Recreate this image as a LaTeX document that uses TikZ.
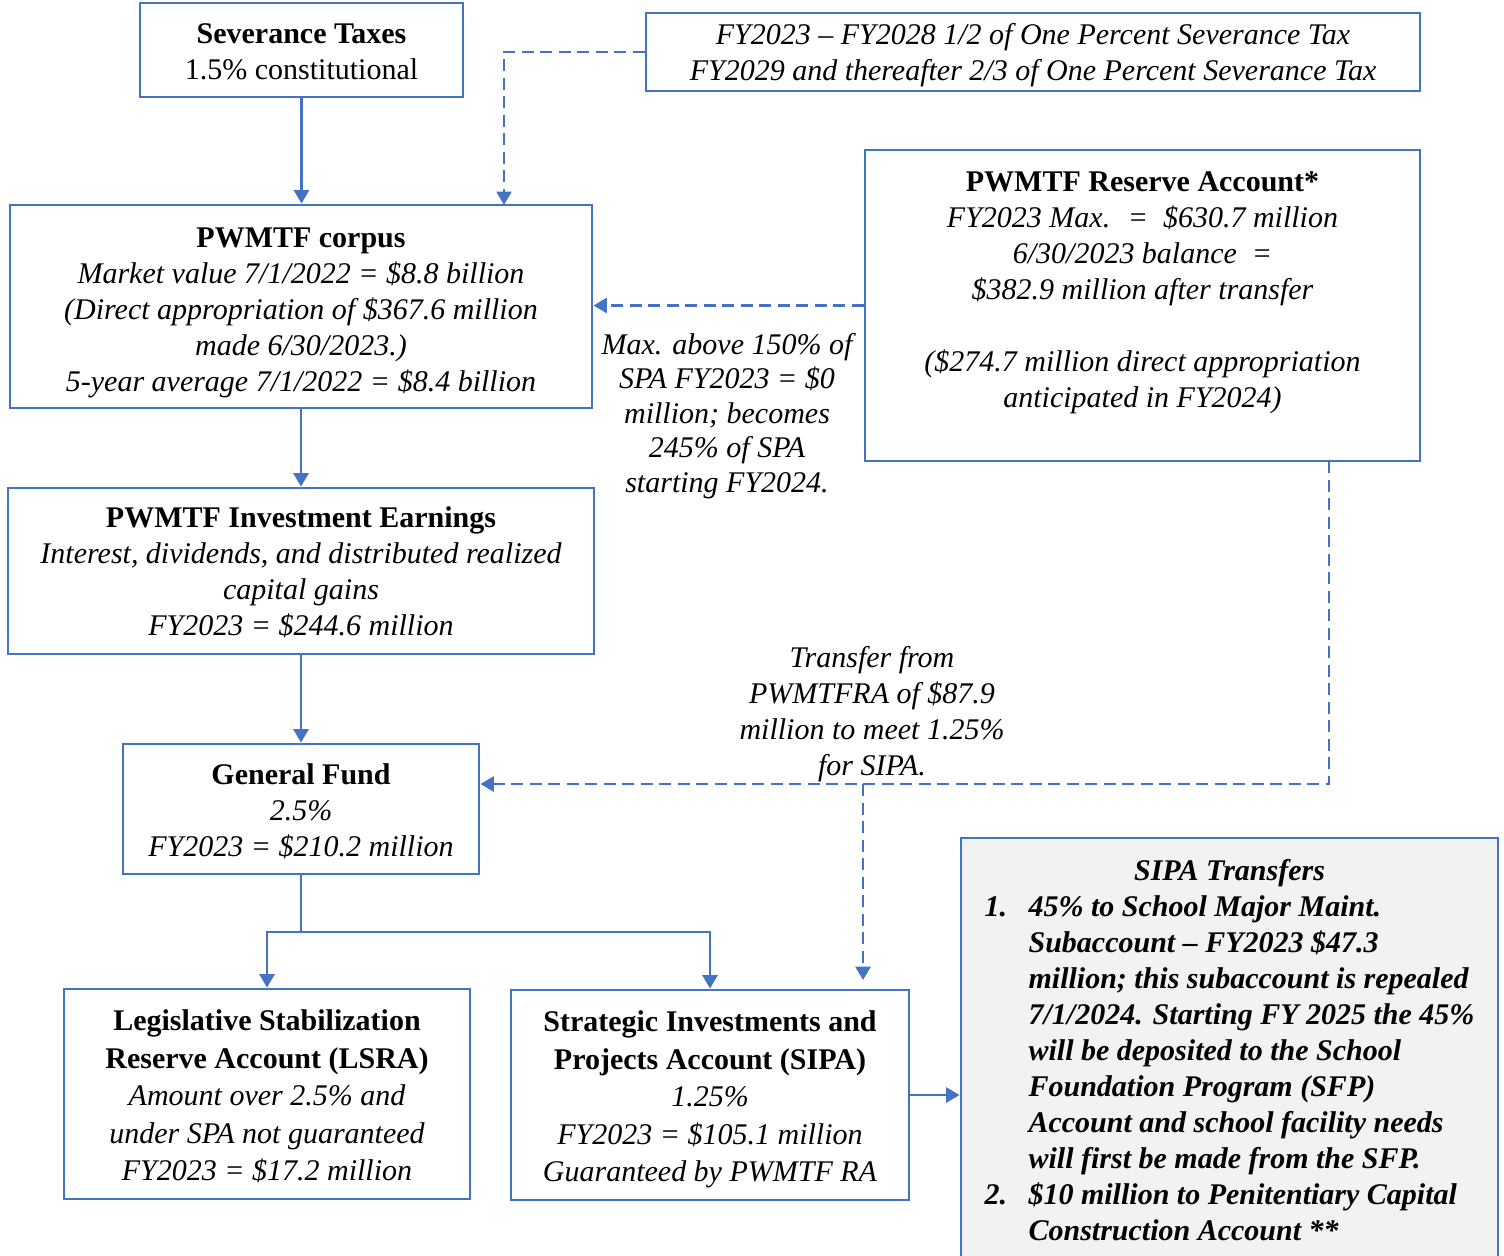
\documentclass[tikz,border=0pt]{standalone}
\usepackage{fontspec}
\setmainfont{Liberation Serif}
\usetikzlibrary{arrows.meta}
\definecolor{flowblue}{HTML}{4472C4}
\definecolor{notegray}{HTML}{F2F2F2}
\newcommand{\topgap}[1]{\rule{0pt}{#1}}
\tikzset{
    account/.style={draw=flowblue, line width=1.15pt, inner sep=0pt, align=center,
        font=\fontsize{12}{14.4}\selectfont},
    caption/.style={inner sep=0pt, align=center, font=\fontsize{12}{13.8}\selectfont\itshape},
    flow/.style={draw=flowblue, line width=1.15pt, -{Triangle[width=6pt,length=5.4pt]}},
    dashflow/.style={flow, dash pattern=on 4.8pt off 2.6pt}
}
\begin{document}
\begin{tikzpicture}[x=0.4pt, y=-0.4pt]

            \useasboundingbox (0,0) rectangle (1504,1255);

            % draw nodes
                % sources
                \node [account, minimum width=129.2pt, minimum height=37.6pt] (sev) at (301.5,50)
                    {\topgap{9.6pt}\textbf{Severance Taxes}\\ 1.5\% constitutional};
                \node [account, minimum width=309.6pt, minimum height=31.2pt] (note) at (1033,52)
                    {\topgap{11.2pt}\itshape FY2023 – FY2028 1/2 of One Percent Severance Tax\\ \itshape FY2029 and thereafter 2/3 of One Percent Severance Tax};

                % corpus and reserve
                \node [account, minimum width=232.8pt, minimum height=81.2pt] (corpus) at (301,306.5)
                    {\topgap{12.8pt}\textbf{PWMTF corpus}\\ \itshape Market value 7/1/2022 = \$8.8 billion\\ \itshape (Direct appropriation of \$367.6 million\\ \itshape made 6/30/2023.)\\ \itshape 5-year average 7/1/2022 = \$8.4 billion};
                \node [account, minimum width=222pt, minimum height=124.4pt] (reserve) at (1142.5,305.5)
                    {\topgap{13.6pt}\textbf{PWMTF Reserve Account*}\\ \itshape FY2023 Max. ~=~ \$630.7 million\\ \itshape 6/30/2023 balance ~=\\ \itshape \$382.9 million after transfer\\ \strut\\ \itshape (\$274.7 million direct appropriation\\ \itshape anticipated in FY2024)\\ \strut};

                % earnings and general fund
                \node [account, minimum width=234.4pt, minimum height=66.4pt] (earn) at (301,571)
                    {\topgap{9.6pt}\textbf{PWMTF Investment Earnings}\\ \itshape Interest, dividends, and distributed realized\\ \itshape capital gains\\ \itshape FY2023 = \$244.6 million};
                \node [account, minimum width=142.4pt, minimum height=52pt] (gf) at (301,809)
                    {\topgap{10.4pt}\textbf{General Fund}\\ \itshape 2.5\%\\ \itshape FY2023 = \$210.2 million};

                % accounts
                \node [account, minimum width=162.4pt, minimum height=84pt, font=\fontsize{12}{15}\selectfont] (lsra) at (267,1094)
                    {\topgap{10.4pt}\textbf{Legislative Stabilization}\\ \textbf{Reserve Account (LSRA)}\\ \itshape Amount over 2.5\% and\\ \itshape under SPA not guaranteed\\ \itshape FY2023 = \$17.2 million};
                \node [account, minimum width=159.2pt, minimum height=84pt, font=\fontsize{12}{15}\selectfont] (sipa) at (710,1095)
                    {\topgap{12pt}\textbf{Strategic Investments and}\\ \textbf{Projects Account (SIPA)}\\ \itshape 1.25\%\\ \itshape FY2023 = \$105.1 million\\ \itshape Guaranteed by PWMTF RA};
                \node [account, fill=notegray, minimum width=214.8pt, minimum height=169.6pt] (transfers) at (1229.5,1050)
                    {\bfseries\itshape
                    \begin{tabular}{@{}l@{\hspace{8.6pt}}l@{}}
                        \multicolumn{2}{c}{\topgap{12.5pt}SIPA Transfers}\\
                        1. & 45\% to School Major Maint.\\
                           & Subaccount – FY2023 \$47.3\\
                           & million; this subaccount is repealed\\
                           & 7/1/2024. Starting FY 2025 the 45\%\\
                           & will be deposited to the School\\
                           & Foundation Program (SFP)\\
                           & Account and school facility needs\\
                           & will first be made from the SFP.\\
                        2. & \$10 million to Penitentiary Capital\\
                           & Construction Account **
                    \end{tabular}};

                % labels
                \node [caption] (maxnote) at (727,416)
                    {Max. above 150\% of\\ SPA FY2023 = \$0\\ million; becomes\\ 245\% of SPA\\ starting FY2024.};
                \node [caption, font=\fontsize{12}{14.3}\selectfont\itshape] (transfernote) at (872,714)
                    {Transfer from\\ PWMTFRA of \$87.9\\ million to meet 1.25\%\\ for SIPA.};

                % junctions
                \coordinate (notedrop) at (504,205);
                \coordinate (resdrop) at (1329,461);
                \coordinate (split) at (863,784);
                \coordinate (sipain) at (863,980);
                \coordinate (fork) at (301,932);

            % lines down the main column
            \foreach \a/\b in {sev/corpus, corpus/earn, earn/gf}
                \draw [flow] (\a.south) -- (\a.south |- \b.north);

            % severance share into corpus
            \draw [dashflow] (note.west) -| (notedrop);

            % reserve into corpus
            \draw [dashflow] (reserve.west) -- (reserve.west -| corpus.east);

            % reserve to general fund and SIPA
            \draw [dashflow] (resdrop) |- (split) -- (split -| gf.east);
            \draw [dashflow] (split) -- (sipain);

            % general fund to accounts
            \foreach \t in {lsra, sipa}
                \draw [flow] (gf.south) -- (fork) -| (\t.north);

            % SIPA to transfers
            \draw [flow] (sipa.east) -- (sipa.east -| transfers.west);

            \end{tikzpicture}
\end{document}
